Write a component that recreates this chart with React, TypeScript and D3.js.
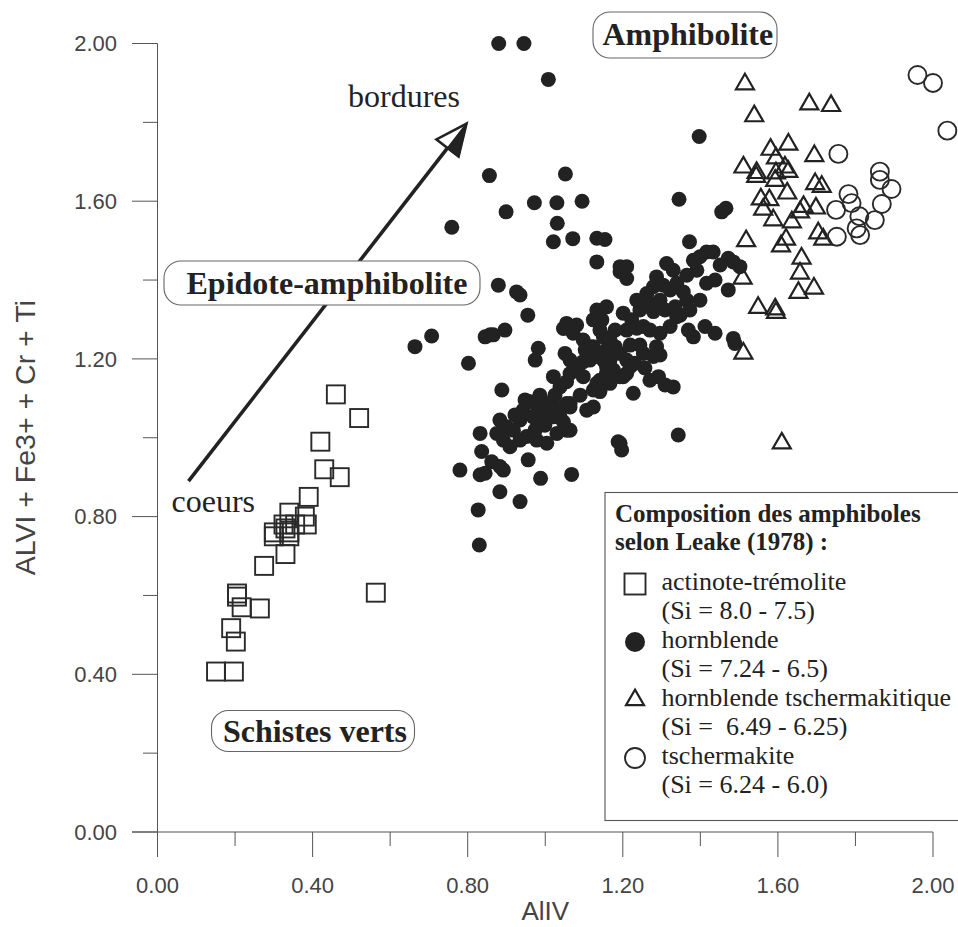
import React from "react";
import * as d3 from "d3";

// ---- Data (AlIV, ALVI + Fe3+ + Cr + Ti) ----
const actinote: [number, number][] = [
  [0.46, 1.11], [0.52, 1.05], [0.42, 0.99], [0.43, 0.92], [0.47, 0.9], [0.39, 0.85],
  [0.34, 0.81], [0.38, 0.8], [0.385, 0.78], [0.355, 0.78], [0.325, 0.78], [0.3, 0.76],
  [0.34, 0.76], [0.33, 0.77], [0.3, 0.75], [0.34, 0.75], [0.33, 0.705], [0.275, 0.675],
  [0.205, 0.605], [0.205, 0.597], [0.217, 0.57], [0.264, 0.567], [0.19, 0.517],
  [0.202, 0.483], [0.151, 0.407], [0.197, 0.407], [0.563, 0.607],
];

const hornblende: [number, number][] = [
  [0.88, 2.0], [0.945, 2.0], [1.008, 1.909], [0.856, 1.665], [1.052, 1.669], [0.899, 1.573],
  [0.972, 1.596], [1.03, 1.596], [1.095, 1.6], [0.759, 1.534], [1.031, 1.544], [1.021, 1.497],
  [1.071, 1.505], [1.133, 1.506], [1.154, 1.503], [1.397, 1.764], [1.345, 1.605], [1.455, 1.573],
  [1.466, 1.582], [1.372, 1.497], [1.133, 1.446], [1.193, 1.434], [1.21, 1.404], [0.879, 1.387],
  [0.926, 1.37], [0.935, 1.362], [0.955, 1.311], [0.858, 1.261], [0.896, 1.273], [0.888, 1.121],
  [0.982, 1.227], [0.974, 1.197], [1.416, 1.392], [1.472, 1.375], [1.343, 1.007], [1.193, 0.986],
  [1.197, 0.969], [1.193, 1.421], [1.21, 1.434], [1.416, 1.471], [1.433, 1.471], [1.399, 1.459],
  [1.472, 1.455], [1.485, 1.446], [1.502, 1.434], [1.313, 1.442], [1.33, 1.425], [1.382, 1.45],
  [1.391, 1.425], [1.365, 1.412], [1.287, 1.408], [1.279, 1.383], [1.304, 1.387], [1.322, 1.375],
  [1.339, 1.392], [1.356, 1.37], [1.365, 1.349], [1.257, 1.349], [1.27, 1.341], [1.296, 1.349],
  [1.244, 1.324], [1.279, 1.32], [1.309, 1.324], [1.335, 1.332], [1.339, 1.307], [1.322, 1.282],
  [1.201, 1.316], [1.223, 1.299], [1.21, 1.273], [1.236, 1.278], [1.253, 1.282], [1.27, 1.273],
  [1.133, 1.324], [1.146, 1.299], [1.124, 1.299], [1.369, 1.273], [1.382, 1.256], [1.412, 1.282],
  [1.438, 1.265], [1.485, 1.252], [1.489, 1.239], [1.055, 1.29], [1.081, 1.286], [1.072, 1.265],
  [1.098, 1.248], [1.15, 1.256], [1.167, 1.248], [1.18, 1.231], [1.158, 1.223], [1.193, 1.214],
  [1.21, 1.197], [1.231, 1.189], [1.253, 1.214], [1.279, 1.206], [1.287, 1.231], [1.296, 1.265],
  [1.124, 1.231], [1.133, 1.206], [1.115, 1.197], [1.15, 1.197], [1.158, 1.18], [1.176, 1.172],
  [1.051, 1.214], [1.064, 1.197], [1.085, 1.18], [1.064, 1.163], [1.098, 1.155], [1.141, 1.146],
  [1.167, 1.138], [1.193, 1.155], [1.21, 1.163], [1.27, 1.146], [1.292, 1.155], [1.309, 1.134],
  [1.33, 1.129], [1.227, 1.113], [1.124, 1.121], [1.133, 1.138], [1.055, 1.087], [1.064, 1.078],
  [1.107, 1.07], [1.124, 1.078], [1.038, 1.053], [0.664, 1.231], [0.707, 1.258], [0.845, 1.256],
  [0.866, 1.261], [0.802, 1.189], [1.047, 1.277], [1.115, 1.231], [1.098, 1.193], [1.167, 1.197],
  [1.219, 1.18], [1.158, 1.163], [1.201, 1.155], [1.141, 1.117], [1.021, 1.155], [1.038, 1.129],
  [1.055, 1.142], [0.961, 1.091], [0.943, 1.07], [0.978, 1.083], [1.004, 1.087], [1.03, 1.075],
  [0.935, 1.045], [0.969, 1.053], [0.995, 1.062], [1.021, 1.053], [1.047, 1.04], [1.064, 1.019],
  [0.883, 1.045], [0.901, 1.028], [0.918, 1.019], [0.875, 1.011], [0.892, 0.994], [0.909, 0.977],
  [0.935, 0.994], [0.952, 1.003], [0.978, 0.994], [1.004, 0.986], [1.03, 1.011], [1.055, 1.019],
  [1.064, 1.087], [0.832, 1.011], [0.836, 0.965], [0.956, 0.944], [0.862, 0.939], [0.883, 0.927],
  [0.892, 0.918], [0.78, 0.918], [0.832, 0.906], [0.845, 0.91], [0.883, 0.863], [0.935, 0.838],
  [0.988, 0.897], [1.068, 0.907], [1.188, 0.99], [0.827, 0.817], [0.83, 0.728], [1.158, 1.332],
  [1.236, 1.349], [1.262, 1.366], [1.18, 1.273], [1.244, 1.235], [1.103, 1.223], [1.296, 1.21],
  [1.257, 1.177], [1.219, 1.235], [1.141, 1.273], [1.348, 1.311], [1.373, 1.324], [1.399, 1.349],
  [1.438, 1.4], [1.451, 1.438], [0.986, 1.108], [1.025, 1.108], [0.948, 1.096], [0.922, 1.058],
  [0.999, 1.032], [0.974, 1.02], [1.09, 1.108],
];

const hornblendeTscher: [number, number][] = [
  [1.515, 1.897], [1.539, 1.816], [1.681, 1.846], [1.737, 1.842], [1.581, 1.731], [1.627, 1.744],
  [1.595, 1.709], [1.694, 1.715], [1.511, 1.686], [1.545, 1.672], [1.544, 1.662], [1.595, 1.671],
  [1.618, 1.686], [1.627, 1.675], [1.593, 1.652], [1.696, 1.644], [1.713, 1.637], [1.624, 1.62],
  [1.556, 1.605], [1.578, 1.603], [1.562, 1.579], [1.588, 1.552], [1.666, 1.586], [1.698, 1.582],
  [1.657, 1.572], [1.636, 1.547], [1.621, 1.503], [1.608, 1.486], [1.518, 1.499], [1.704, 1.519],
  [1.717, 1.503], [1.661, 1.455], [1.657, 1.417], [1.653, 1.368], [1.693, 1.379], [1.549, 1.33],
  [1.593, 1.326], [1.595, 1.317], [1.509, 1.404], [1.511, 1.214], [1.61, 0.986],
];

const tschermakite: [number, number][] = [
  [1.96, 1.92], [2.0, 1.9], [2.037, 1.779], [1.756, 1.72], [1.863, 1.675], [1.863, 1.654],
  [1.893, 1.631], [1.782, 1.618], [1.79, 1.595], [1.868, 1.593], [1.75, 1.578], [1.81, 1.562],
  [1.85, 1.552], [1.803, 1.531], [1.812, 1.514], [1.752, 1.51],
];

const xMajorTicks = [0, 0.4, 0.8, 1.2, 1.6, 2.0];
const xMinorTicks = [0.2, 0.6, 1.0, 1.4, 1.8];
const yMajorTicks = [0, 0.4, 0.8, 1.2, 1.6, 2.0];
const yMinorTicks = [0.2, 0.6, 1.0, 1.4, 1.8];

const arrowFrom: [number, number] = [0.08, 0.89];
const arrowTo: [number, number] = [0.797, 1.797];

const legendTitle = ["Composition des amphiboles", "selon Leake (1978) :"];
const legendItems = [
  { kind: "square", name: "actinote-trémolite", range: "(Si = 8.0 - 7.5)" },
  { kind: "dot", name: "hornblende", range: "(Si = 7.24 - 6.5)" },
  { kind: "triangle", name: "hornblende tschermakitique", range: "(Si =  6.49 - 6.25)" },
  { kind: "circle", name: "tschermakite", range: "(Si = 6.24 - 6.0)" },
];

const SERIF = '"Liberation Serif", "Times New Roman", Times, serif';
const SANS = '"Liberation Sans", Arial, Helvetica, sans-serif';
const INK = "#222";

function Marker({ kind, cx, cy, big }: { kind: string; cx: number; cy: number; big?: boolean }) {
  if (kind === "square") {
    const s = big ? 21 : 18;
    return <rect x={cx - s / 2} y={cy - s / 2} width={s} height={s} fill="none" stroke="#2a2a2a" strokeWidth={1.9} />;
  }
  if (kind === "dot") {
    return <circle cx={cx} cy={cy} r={big ? 10 : 7.5} fill={INK} />;
  }
  if (kind === "triangle") {
    const w = 18;
    const area = (Math.sqrt(3) / 4) * w * w;
    const p = d3.symbol().type(d3.symbolTriangle).size(area)() as string;
    return <path d={p} transform={`translate(${cx},${cy})`} fill="none" stroke={INK} strokeWidth={2.2} strokeLinejoin="miter" />;
  }
  return <circle cx={cx} cy={cy} r={big ? 10 : 9} fill="none" stroke="#2a2a2a" strokeWidth={1.9} />;
}

function LabelBox({ x0, y0, x1, y1, tx, ty, text }: { x0: number; y0: number; x1: number; y1: number; tx: number; ty: number; text: string }) {
  return (
    <g>
      <rect x={x0} y={y0} width={x1 - x0} height={y1 - y0} rx={17} ry={17} fill="#fff" stroke="#666" strokeWidth={1.1} />
      <text x={tx} y={ty} fontFamily={SERIF} fontWeight="bold" fontSize={32} fill={INK}>{text}</text>
    </g>
  );
}

export default function App() {
  const x = d3.scaleLinear().domain([0, 2]).range([157.5, 933]);
  const y = d3.scaleLinear().domain([0, 2]).range([832, 43.5]);

  // arrow geometry
  const ax0 = x(arrowFrom[0]), ay0 = y(arrowFrom[1]);
  const ax1 = x(arrowTo[0]), ay1 = y(arrowTo[1]);
  const dx = ax1 - ax0, dy = ay1 - ay0;
  const len = Math.hypot(dx, dy);
  const ux = dx / len, uy = dy / len;
  const headL = 31, headW = 14;
  const bx = ax1 - ux * headL, by = ay1 - uy * headL;
  const px = -uy, py = ux;
  const lw = [bx + px * headW, by + py * headW];
  const rw = [bx - px * headW, by - py * headW];
  const rightWing = lw[1] > rw[1] ? lw : rw;
  const leftWing = lw[1] > rw[1] ? rw : lw;

  const axisColor = "#555";
  const labelColor = "#444";

  return (
    <svg width={958} height={927} style={{ position: "absolute", left: 0, top: 0, background: "#fff" }}>
      {/* axes */}
      <line x1={x(0)} y1={y(2)} x2={x(0)} y2={857} stroke={axisColor} strokeWidth={1} />
      <line x1={132} y1={y(0)} x2={x(2)} y2={y(0)} stroke={axisColor} strokeWidth={1} />
      {yMajorTicks.map((t) => (
        <g key={"ym" + t}>
          <line x1={132} x2={x(0)} y1={y(t)} y2={y(t)} stroke={axisColor} strokeWidth={1} />
          <text x={117} y={y(t) + 7.8} textAnchor="end" fontFamily={SANS} fontSize={22} fill={labelColor}>{t.toFixed(2)}</text>
        </g>
      ))}
      {yMinorTicks.map((t) => (
        <line key={"yn" + t} x1={143} x2={x(0)} y1={y(t)} y2={y(t)} stroke={axisColor} strokeWidth={1} />
      ))}
      {xMajorTicks.map((t) => (
        <g key={"xm" + t}>
          <line x1={x(t)} x2={x(t)} y1={y(0)} y2={857} stroke={axisColor} strokeWidth={1} />
          <text x={x(t)} y={892.5} textAnchor="middle" fontFamily={SANS} fontSize={22} fill={labelColor}>{t.toFixed(2)}</text>
        </g>
      ))}
      {xMinorTicks.map((t) => (
        <line key={"xn" + t} x1={x(t)} x2={x(t)} y1={y(0)} y2={846} stroke={axisColor} strokeWidth={1} />
      ))}
      <text x={(x(0) + x(2)) / 2} y={920} textAnchor="middle" fontFamily={SANS} fontSize={26} fill={labelColor}>AlIV</text>
      <text transform={`translate(35,${(y(0) + y(2)) / 2}) rotate(-90)`} textAnchor="middle" fontFamily={SANS} fontSize={28.5} fill={labelColor}>ALVI + Fe3+ + Cr + Ti</text>

      {/* arrow */}
      <line x1={ax0} y1={ay0} x2={bx + ux * 2} y2={by + uy * 2} stroke={INK} strokeWidth={3.6} />
      <path d={`M${ax1},${ay1} L${leftWing[0]},${leftWing[1]} L${rightWing[0]},${rightWing[1]} Z`} fill="#fff" stroke={INK} strokeWidth={2.6} strokeLinejoin="miter" />
      <path d={`M${ax1},${ay1} L${bx},${by} L${rightWing[0]},${rightWing[1]} Z`} fill={INK} stroke={INK} strokeWidth={1.5} />
      <text x={348} y={107} fontFamily={SERIF} fontSize={32} fill={INK}>bordures</text>
      <text x={171.5} y={512} fontFamily={SERIF} fontSize={32} fill={INK}>coeurs</text>

      {/* region labels */}
      <LabelBox x0={164} y0={261} x1={480} y1={305} tx={186.5} ty={293.5} text="Epidote-amphibolite" />
      <LabelBox x0={593} y0={12} x1={777} y1={58} tx={602.5} ty={45} text="Amphibolite" />
      <LabelBox x0={211.5} y0={710.5} x1={414.5} y1={751.5} tx={223} ty={742} text="Schistes verts" />

      {/* data */}
      {actinote.map((d, i) => <Marker key={"a" + i} kind="square" cx={x(d[0])} cy={y(d[1])} />)}
      {hornblende.map((d, i) => <Marker key={"h" + i} kind="dot" cx={x(d[0])} cy={y(d[1])} />)}
      {hornblendeTscher.map((d, i) => <Marker key={"t" + i} kind="triangle" cx={x(d[0])} cy={y(d[1])} />)}
      {tschermakite.map((d, i) => <Marker key={"c" + i} kind="circle" cx={x(d[0])} cy={y(d[1])} />)}

      {/* legend */}
      <rect x={605} y={492.5} width={400} height={328} fill="#fff" stroke="#555" strokeWidth={1.1} />
      {legendTitle.map((t, i) => (
        <text key={"lt" + i} x={615} y={521.5 + i * 28.5} fontFamily={SERIF} fontWeight="bold" fontSize={25} fill={INK}>{t}</text>
      ))}
      {legendItems.map((it, i) => {
        const base = 590 + i * 58;
        return (
          <g key={"li" + i}>
            <Marker kind={it.kind} cx={635} cy={base - 6} big />
            <text x={661.5} y={base} fontFamily={SERIF} fontSize={26} fill={INK} style={{ whiteSpace: "pre" }}>{it.name}</text>
            <text x={661.5} y={base + 28.5} fontFamily={SERIF} fontSize={26} fill={INK} style={{ whiteSpace: "pre" }}>{it.range}</text>
          </g>
        );
      })}
    </svg>
  );
}
